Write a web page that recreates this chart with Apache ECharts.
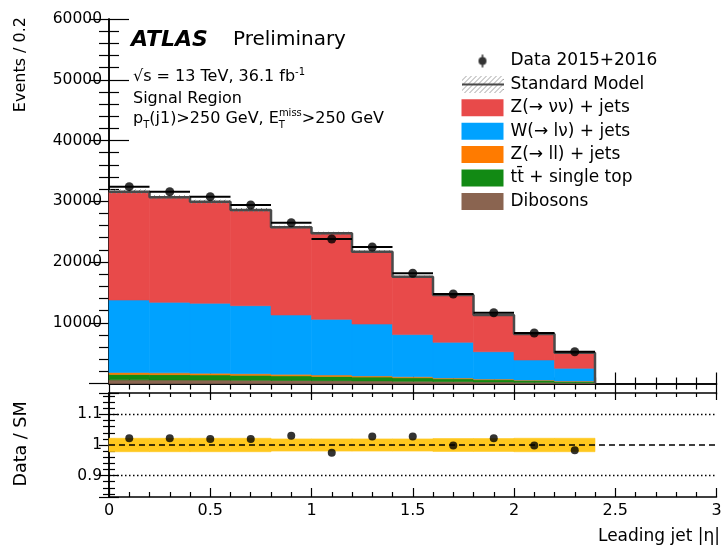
<!DOCTYPE html>
<html>
<head>
<meta charset="utf-8">
<script src="https://cdn.jsdelivr.net/npm/echarts@6/dist/echarts.min.js"></script>
<style>
  html, body { margin: 0; padding: 0; background: #fff; }
  #chart { width: 721px; height: 547px; }
</style>
</head>
<body>
<div id="chart"></div>
<script>
// Leading-jet |eta| bins (edges)
const binEdges = [0, 0.2, 0.4, 0.6, 0.8, 1.0, 1.2, 1.4, 1.6, 1.8, 2.0, 2.2, 2.4];

// Observed events per bin
const dataEvents = [32400, 31570, 30750, 29380, 26470, 23790, 22470, 18140, 14730, 11650, 8310, 5230];

// Background predictions per bin (stacked bottom to top: dibosons, ttbar, Z(ll), W, Z(vv))
const diboson = [600, 580, 560, 540, 500, 470, 430, 380, 320, 260, 200, 140];
const ttbarTop = [900, 880, 850, 800, 760, 700, 620, 560, 450, 360, 280, 200];
const zLL     = [300, 290, 280, 270, 250, 230, 200, 170, 140, 110, 80, 60];
const wLNu    = [11940, 11610, 11510, 11200, 9770, 9160, 8540, 6940, 5870, 4500, 3310, 2100];
const zNuNu   = [17830, 17290, 16730, 15750, 14430, 14160, 11910, 9530, 7790, 6050, 4280, 2570];

// Data / SM ratio and relative SM uncertainty
const ratioDataSM = [1.022, 1.022, 1.020, 1.020, 1.030, 0.975, 1.028, 1.028, 0.998, 1.022, 0.998, 0.983];
const smRelUnc    = [0.022, 0.022, 0.022, 0.022, 0.020, 0.020, 0.020, 0.020, 0.021, 0.021, 0.022, 0.022];
const ratioRefLevels = [0.9, 1.0, 1.1];

const FONT = '"DejaVu Sans", "Liberation Sans", sans-serif';

const components = [
  { name: 'Dibosons',              values: diboson,  color: '#8A6450' },
  { name: 'tt\u0304 + single top', values: ttbarTop, color: '#128A14' },
  { name: 'Z(\u2192 ll) + jets',   values: zLL,      color: '#FF7B00' },
  { name: 'W(\u2192 l\u03bd) + jets', values: wLNu,  color: '#00A2FF' },
  { name: 'Z(\u2192 \u03bd\u03bd) + jets', values: zNuNu, color: '#E84A4A' }
];

// Build stacked [low, high, base, top] items per component
const nBins = dataEvents.length;
const runningBase = new Array(nBins).fill(0);
const stackSeries = components.map(c => {
  const items = c.values.map((v, i) => {
    const item = [binEdges[i], binEdges[i + 1], runningBase[i], runningBase[i] + v];
    runningBase[i] += v;
    return item;
  });
  return {
    name: c.name, type: 'custom', xAxisIndex: 0, yAxisIndex: 0,
    itemStyle: { color: c.color },
    encode: { x: [0, 1], y: [2, 3] },
    renderItem: (params, api) => {
      const p0 = api.coord([api.value(0), api.value(3)]);
      const p1 = api.coord([api.value(1), api.value(2)]);
      return {
        type: 'rect',
        shape: { x: p0[0], y: p0[1], width: p1[0] - p0[0], height: p1[1] - p0[1] },
        style: { fill: c.color, stroke: c.color, lineWidth: 0.6 }
      };
    },
    data: items, z: 2
  };
});
const smTotal = runningBase.slice();

// Hatch pattern for the SM uncertainty
function makeHatch(w, h, color, withLine) {
  const cv = document.createElement('canvas');
  cv.width = w; cv.height = h;
  const ctx = cv.getContext('2d');
  ctx.strokeStyle = color; ctx.lineWidth = 1;
  for (let k = -h; k < w + h; k += 5) {
    ctx.beginPath(); ctx.moveTo(k, h); ctx.lineTo(k + h, 0); ctx.stroke();
  }
  if (withLine) {
    ctx.strokeStyle = '#444'; ctx.lineWidth = 2;
    ctx.beginPath(); ctx.moveTo(0, h / 2); ctx.lineTo(w, h / 2); ctx.stroke();
  }
  return cv;
}
const hatchCanvas = makeHatch(10, 10, '#8a8a8a', false);
const smIcon = 'image://' + makeHatch(42, 17, '#a0a0a0', true).toDataURL();

function makeDataIcon() {
  const cv = document.createElement('canvas');
  cv.width = 42; cv.height = 17;
  const ctx = cv.getContext('2d');
  ctx.fillStyle = '#000'; ctx.strokeStyle = '#000'; ctx.lineWidth = 1.5;
  ctx.beginPath(); ctx.moveTo(21, 2); ctx.lineTo(21, 15); ctx.stroke();
  ctx.beginPath(); ctx.arc(21, 8.5, 4, 0, Math.PI * 2); ctx.fill();
  return 'image://' + cv.toDataURL();
}
const dataIcon = makeDataIcon();

const binCenters = dataEvents.map((_, i) => (binEdges[i] + binEdges[i + 1]) / 2);

// Step outline of the total SM prediction
const smStep = smTotal.map((v, i) => [binEdges[i], v]);
smStep.push([binEdges[nBins], smTotal[nBins - 1]]);
smStep.push([binEdges[nBins], 0]);

const smBand = smTotal.map((v, i) => [binEdges[i], binEdges[i + 1], v * (1 - smRelUnc[i] * 0.5), v * (1 + smRelUnc[i] * 0.5)]);
const dataBars = dataEvents.map((v, i) => [binEdges[i], binEdges[i + 1], v]);
const ratioBand = smRelUnc.map((u, i) => [binEdges[i], binEdges[i + 1], 1 - u, 1 + u]);

const axisLineStyle = { show: true, lineStyle: { color: '#000', width: 1.5 } };
const plainNumber = v => String(Math.round(v * 1000) / 1000);

function xAxisDef(grid, position, showLabels, majorLen, minorLen) {
  return {
    type: 'value', gridIndex: grid, position: position, min: 0, max: 3, interval: 0.5,
    axisLine: axisLineStyle,
    axisTick: { show: true, inside: true, length: majorLen, lineStyle: { color: '#000', width: 1.2 } },
    minorTick: { show: true, splitNumber: 5, length: minorLen, lineStyle: { color: '#000', width: 1.2 } },
    splitLine: { show: false }, minorSplitLine: { show: false },
    axisLabel: { show: showLabels, color: '#000', fontFamily: FONT, fontSize: 16, margin: 6, formatter: plainNumber }
  };
}

function yAxisDef(grid, position, range, showLabels, majorLen, minorLen) {
  const def = {
    type: 'value', gridIndex: grid, position: position, min: range.min, max: range.max,
    axisLine: axisLineStyle,
    axisTick: { show: true, inside: true, length: majorLen, lineStyle: { color: '#000', width: 1.2 } },
    minorTick: { show: true, splitNumber: 5, length: minorLen, lineStyle: { color: '#000', width: 1.2 } },
    splitLine: { show: false },
    axisLabel: { show: showLabels, color: '#000', fontFamily: FONT, fontSize: 15.5, margin: 7,
                 showMinLabel: false, showMaxLabel: range.showMax, formatter: plainNumber }
  };
  if (range.interval) def.interval = range.interval;
  if (range.splitNumber) def.splitNumber = range.splitNumber;
  return def;
}

const mainRange = { min: 0, max: 60000, interval: 10000, showMax: true };
const ratioRange = { min: 0.83, max: 1.17, splitNumber: 3, showMax: false };

const option = {
  animation: false,
  backgroundColor: '#fff',
  grid: [
    { left: 109, top: 19, width: 607.5, height: 364.5, outerBoundsMode: 'none' },
    { left: 109, top: 393, width: 607.5, height: 104, outerBoundsMode: 'none' }
  ],
  xAxis: [
    xAxisDef(0, 'bottom', false, 11, 6),
    xAxisDef(0, 'top', false, 11, 6),
    xAxisDef(1, 'bottom', true, 9, 5),
    xAxisDef(1, 'top', false, 7, 4)
  ],
  yAxis: [
    yAxisDef(0, 'left', mainRange, true, 20, 10),
    yAxisDef(0, 'right', mainRange, false, 20, 10),
    yAxisDef(1, 'left', ratioRange, true, 10, 6),
    yAxisDef(1, 'right', ratioRange, false, 10, 6)
  ],
  legend: {
    orient: 'vertical', left: 456.5, top: 47.5,
    itemWidth: 42, itemHeight: 17, itemGap: 6.4,
    selectedMode: false,
    textStyle: { color: '#000', fontFamily: FONT, fontSize: 17, lineHeight: 17, padding: [0, 0, 0, 2] },
    data: [
      { name: 'Data 2015+2016', icon: dataIcon },
      { name: 'Standard Model', icon: smIcon },
      { name: components[4].name, icon: 'rect' },
      { name: components[3].name, icon: 'rect' },
      { name: components[2].name, icon: 'rect' },
      { name: components[1].name, icon: 'rect' },
      { name: components[0].name, icon: 'rect' }
    ]
  },
  graphic: [
    { type: 'text', x: 131, y: 40, style: { text: 'ATLAS', font: 'italic bold 22px ' + FONT, fill: '#000', verticalAlign: 'middle' } },
    { type: 'text', x: 233, y: 40, style: { text: 'Preliminary', font: '20px ' + FONT, fill: '#000', verticalAlign: 'middle' } },
    {
      type: 'text', x: 133, y: 77,
      style: {
        text: '{n|\u221as = 13 TeV, 36.1 fb}{sup|-1}', verticalAlign: 'middle', fill: '#000',
        rich: {
          n: { fontFamily: FONT, fontSize: 16, lineHeight: 20, fill: '#000' },
          sup: { fontFamily: FONT, fontSize: 10, lineHeight: 10, verticalAlign: 'top', fill: '#000' }
        }
      }
    },
    { type: 'text', x: 133, y: 98.5, style: { text: 'Signal Region', font: '16px ' + FONT, fill: '#000', verticalAlign: 'middle' } },
    {
      type: 'text', x: 133, y: 119,
      style: {
        text: '{n|p}{sub|T}{n|(j1)>250 GeV, E}{subz|T}{sup|miss}{n|>250 GeV}', verticalAlign: 'middle', fill: '#000',
        rich: {
          n: { fontFamily: FONT, fontSize: 16, lineHeight: 22, fill: '#000' },
          sub: { fontFamily: FONT, fontSize: 10, lineHeight: 10, verticalAlign: 'bottom', fill: '#000' },
          subz: { fontFamily: FONT, fontSize: 10, lineHeight: 10, verticalAlign: 'bottom', width: 0.001, fill: '#000' },
          sup: { fontFamily: FONT, fontSize: 10, lineHeight: 10, verticalAlign: 'top', fill: '#000' }
        }
      }
    },
    { type: 'text', x: 21, y: 17, rotation: Math.PI / 2, style: { text: 'Events / 0.2', font: '16px ' + FONT, fill: '#000', align: 'right', verticalAlign: 'middle' } },
    { type: 'text', x: 21, y: 444, rotation: Math.PI / 2, style: { text: 'Data / SM', font: '17.5px ' + FONT, fill: '#000', align: 'center', verticalAlign: 'middle' } },
    { type: 'text', x: 720, y: 537, style: { text: 'Leading jet |\u03b7|', font: '17px ' + FONT, fill: '#000', align: 'right', verticalAlign: 'middle' } }
  ],
  series: [
    ...stackSeries,
    {
      name: 'Standard Model', type: 'custom', xAxisIndex: 0, yAxisIndex: 0,
      itemStyle: { color: '#999' },
      encode: { x: [0, 1], y: [2, 3] },
      renderItem: (params, api) => {
        const p0 = api.coord([api.value(0), api.value(3)]);
        const p1 = api.coord([api.value(1), api.value(2)]);
        return {
          type: 'rect',
          shape: { x: p0[0], y: p0[1], width: p1[0] - p0[0], height: p1[1] - p0[1] },
          style: { fill: { image: hatchCanvas, repeat: 'repeat' } }
        };
      },
      data: smBand, z: 3
    },
    {
      name: 'SM total', type: 'line', xAxisIndex: 0, yAxisIndex: 0, step: 'end',
      symbol: 'none', lineStyle: { color: '#4a4a4a', width: 2.5 }, data: smStep, z: 4
    },
    {
      name: 'Data bars', type: 'custom', xAxisIndex: 0, yAxisIndex: 0,
      encode: { x: [0, 1], y: 2 },
      renderItem: (params, api) => {
        const a = api.coord([api.value(0), api.value(2)]);
        const b = api.coord([api.value(1), api.value(2)]);
        return { type: 'line', shape: { x1: a[0], y1: a[1], x2: b[0], y2: b[1] }, style: { stroke: '#000', lineWidth: 2 } };
      },
      data: dataBars, z: 5
    },
    {
      name: 'Data 2015+2016', type: 'scatter', xAxisIndex: 0, yAxisIndex: 0,
      symbol: 'circle', symbolSize: 9, itemStyle: { color: '#000' },
      data: binCenters.map((x, i) => [x, dataEvents[i]]), z: 6
    },
    {
      name: 'Ratio band', type: 'custom', xAxisIndex: 2, yAxisIndex: 2,
      encode: { x: [0, 1], y: [2, 3] },
      renderItem: (params, api) => {
        const p0 = api.coord([api.value(0), api.value(3)]);
        const p1 = api.coord([api.value(1), api.value(2)]);
        return {
          type: 'rect',
          shape: { x: p0[0], y: p0[1], width: p1[0] - p0[0], height: p1[1] - p0[1] },
          style: { fill: '#FFC81E', stroke: '#FFC81E', lineWidth: 0.6 }
        };
      },
      data: ratioBand, z: 2
    },
    ...ratioRefLevels.map(level => ({
      name: 'Ref ' + level, type: 'line', xAxisIndex: 2, yAxisIndex: 2, symbol: 'none',
      lineStyle: { color: '#000', width: 1.5, type: level === 1 ? [6, 4] : [1.5, 2.5] },
      data: [[0, level], [3, level]], z: 3
    })),
    {
      name: 'Ratio', type: 'scatter', xAxisIndex: 2, yAxisIndex: 2,
      symbol: 'circle', symbolSize: 8, itemStyle: { color: '#000' },
      data: binCenters.map((x, i) => [x, ratioDataSM[i]]), z: 6
    }
  ]
};

const chart = echarts.init(document.getElementById('chart'), null, { renderer: 'canvas' });
chart.setOption(option);
</script>
</body>
</html>
